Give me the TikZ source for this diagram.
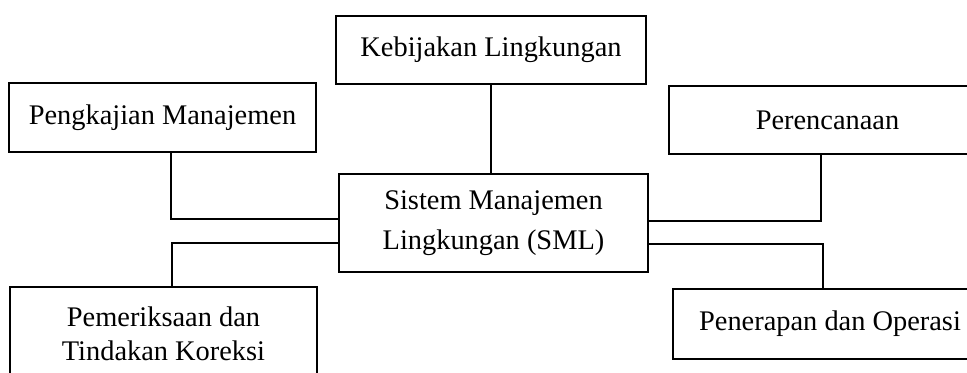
\documentclass[tikz,border=0pt]{standalone}
\usepackage{fontspec}
\setmainfont{Liberation Serif}
\usetikzlibrary{positioning}

\begin{document}
\begin{tikzpicture}[x=0.5pt, y=-0.5pt,
    kotak/.style={draw, line width=0.8pt, align=center, inner sep=0pt,
      font=\fontsize{14.2}{17}\selectfont},
    garis/.style={line width=0.8pt}]
  \clip (0,0) rectangle (967,372);

  % kotak-kotak
  \node[kotak, minimum width=155pt, minimum height=34pt] (kebijakan) at (491,50) {Kebijakan Lingkungan};
  \node[kotak, minimum width=153.5pt, minimum height=34.5pt] (pengkajian) at (162.5,117.5) {Pengkajian Manajemen};
  \node[kotak, minimum width=158.5pt, minimum height=34pt] (perencanaan) at (827.5,120) {Perencanaan};
  \node[kotak, minimum width=154.5pt, minimum height=49pt] (sml) at (493.5,223) {Sistem Manajemen\\[3pt] Lingkungan (SML)};
  \node[kotak, minimum width=153.5pt, minimum height=47pt] (pemeriksaan) at (163.5,334) {Pemeriksaan dan\\ Tindakan Koreksi};
  \node[kotak, minimum width=157pt, minimum height=35pt] (penerapan) at (830,324) {Penerapan dan Operasi};

  % titik belok
  \coordinate (bkiri) at (171,219);
  \coordinate (bkiri2) at (172,243);
  \coordinate (bkanan) at (821,221);
  \coordinate (bkanan2) at (823,244);

  % garis penghubung
  \draw[garis] (kebijakan.south) -- (kebijakan.south |- sml.north);
  \draw[garis] (pengkajian.south -| bkiri) |- (sml.west |- bkiri);
  \draw[garis] (sml.west |- bkiri2) -| (pemeriksaan.north -| bkiri2);
  \draw[garis] (perencanaan.south -| bkanan) |- (sml.east |- bkanan);
  \draw[garis] (sml.east |- bkanan2) -| (penerapan.north -| bkanan2);
\end{tikzpicture}
\end{document}
